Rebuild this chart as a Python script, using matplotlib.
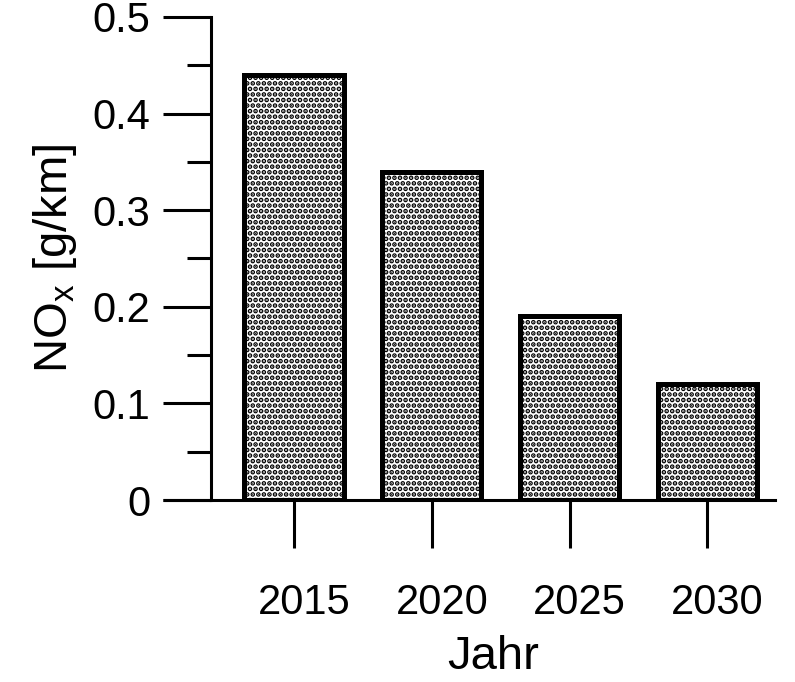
import matplotlib.pyplot as plt
import matplotlib.transforms as mtransforms
import numpy as np

plt.rcParams['font.family'] = ['Liberation Sans', 'DejaVu Sans']
plt.rcParams['hatch.linewidth'] = 2.4

jahre = ['2015', '2020', '2025', '2030']
nox = [0.44, 0.34, 0.19, 0.12]

fig = plt.figure(figsize=(7.95, 6.82), dpi=100)
ax = fig.add_axes([211 / 795, (682 - 500) / 682, (775 - 211) / 795, (500 - 17) / 682])

x = np.arange(len(jahre))
ax.bar(x, nox, width=0.72, color='white', edgecolor='black', linewidth=3.6,
       hatch='...', zorder=2)

ax.set_xlim(-0.603, 3.49)
ax.set_ylim(0, 0.5)
ax.set_xticks(x)
ax.set_xticklabels(jahre)
ax.set_yticks([0, 0.1, 0.2, 0.3, 0.4, 0.5])
ax.set_yticklabels(['0', '0.1', '0.2', '0.3', '0.4', '0.5'])
ax.set_yticks(np.arange(0.05, 0.5, 0.1), minor=True)

for s in ['top', 'right']:
    ax.spines[s].set_visible(False)
ax.spines['left'].set_linewidth(2.2)
ax.spines['bottom'].set_linewidth(2.2)
# Nulllinie reicht links ueber die y-Achse hinaus
ax.plot([-0.603 - 48 / 137.7, -0.603], [0, 0], color='black', lw=2.2, clip_on=False,
        solid_capstyle='butt')

ax.tick_params(axis='y', which='major', length=34.5, width=2.2, labelsize=30, pad=9)
ax.tick_params(axis='y', which='minor', length=17, width=2.2)
ax.tick_params(axis='x', which='major', length=34.5, width=2.2, labelsize=30, pad=25)

# Jahreszahlen leicht nach rechts versetzt wie im Original
shift = mtransforms.ScaledTranslation(10 / 100, 0, fig.dpi_scale_trans)
for lab in ax.get_xticklabels():
    lab.set_transform(lab.get_transform() + shift)

ax.set_xlabel('Jahr', fontsize=34, labelpad=9)
ax.set_ylabel(r'NO$_\mathregular{x}$ [g/km]', fontsize=34, labelpad=10)

fig.savefig('out.png', dpi=100)
